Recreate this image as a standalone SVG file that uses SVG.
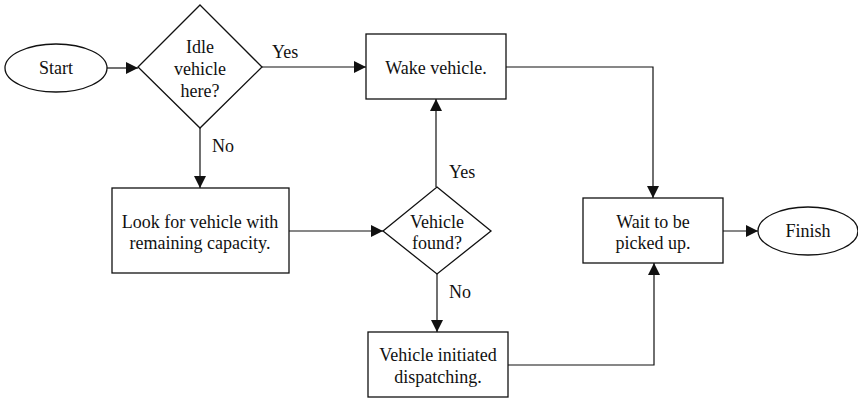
<svg xmlns="http://www.w3.org/2000/svg" width="858" height="398" viewBox="0 0 858 398">
  <style>
    .shape { fill: #fff; stroke: #111; stroke-width: 1.3; }
    .line { fill: none; stroke: #111; stroke-width: 1.2; }
    text { font-family: "Liberation Serif", "Times New Roman", serif; font-size: 18px; fill: #111; text-anchor: middle; }
    .lbl { text-anchor: start; }
  </style>
  <defs>
    <marker id="arrow" viewBox="0 0 12 12" refX="12" refY="6" markerWidth="12" markerHeight="12" markerUnits="userSpaceOnUse" orient="auto">
      <path d="M0,0 L12,6 L0,12 z" fill="#111"/>
    </marker>
  </defs>
  <rect width="858" height="398" fill="#fff"/>

  <g id="connectors">
    <line class="line" x1="107" y1="68" x2="138" y2="68" marker-end="url(#arrow)"/>
    <line class="line" x1="262" y1="67" x2="366" y2="67" marker-end="url(#arrow)"/>
    <polyline class="line" points="506,67 653,67 653,198" marker-end="url(#arrow)"/>
    <line class="line" x1="200" y1="128" x2="200" y2="188" marker-end="url(#arrow)"/>
    <line class="line" x1="289" y1="231" x2="383" y2="231" marker-end="url(#arrow)"/>
    <line class="line" x1="436" y1="187" x2="436" y2="99" marker-end="url(#arrow)"/>
    <line class="line" x1="437" y1="274" x2="437" y2="332" marker-end="url(#arrow)"/>
    <polyline class="line" points="508,365 654,365 654,263" marker-end="url(#arrow)"/>
    <line class="line" x1="723" y1="231" x2="758" y2="231" marker-end="url(#arrow)"/>
    <text class="lbl" x="272" y="58">Yes</text>
    <text class="lbl" x="212" y="152">No</text>
    <text class="lbl" x="449" y="178">Yes</text>
    <text class="lbl" x="449" y="298">No</text>
  </g>

  <g id="start">
    <ellipse class="shape" cx="56" cy="68" rx="51" ry="24"/>
    <text x="56" y="74">Start</text>
  </g>

  <g id="idle-check">
    <polygon class="shape" points="200,5 262,67 200,128 138,67"/>
    <text x="200" y="53">Idle</text>
    <text x="200" y="75">vehicle</text>
    <text x="200" y="97">here?</text>
  </g>

  <g id="wake">
    <rect class="shape" x="366" y="34" width="140" height="65"/>
    <text x="436" y="74">Wake vehicle.</text>
  </g>

  <g id="look">
    <rect class="shape" x="112" y="188" width="177" height="85"/>
    <text x="200" y="228">Look for vehicle with</text>
    <text x="200" y="249">remaining capacity.</text>
  </g>

  <g id="found-check">
    <polygon class="shape" points="437,187 491,231 437,274 383,231"/>
    <text x="437" y="228">Vehicle</text>
    <text x="437" y="249">found?</text>
  </g>

  <g id="dispatch">
    <rect class="shape" x="368" y="332" width="140" height="65"/>
    <text x="438" y="361">Vehicle initiated</text>
    <text x="438" y="383">dispatching.</text>
  </g>

  <g id="wait">
    <rect class="shape" x="583" y="198" width="140" height="65"/>
    <text x="653" y="228">Wait to be</text>
    <text x="653" y="249">picked up.</text>
  </g>

  <g id="finish">
    <ellipse class="shape" cx="808" cy="231" rx="50" ry="24"/>
    <text x="808" y="237">Finish</text>
  </g>
</svg>
